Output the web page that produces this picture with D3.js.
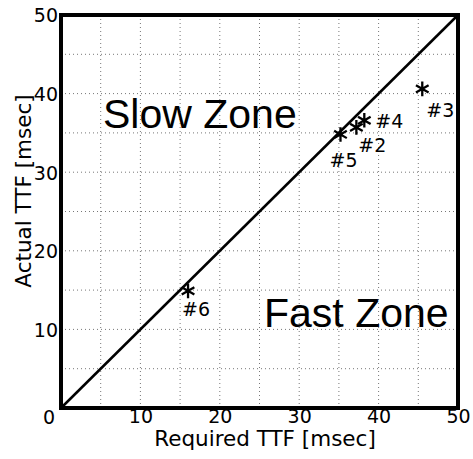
<!DOCTYPE html>
<meta charset="utf-8">
<style>
body { margin: 0; background: #fff; }
.grid line { stroke: #777; stroke-width: 1px; stroke-dasharray: 1,3; }
</style>
<body>
<script src="https://d3js.org/d3.v7.min.js"></script>
<script>

// data
var caseNames = ["#2", "#3", "#4", "#5", "#6"];
var requiredTTF = [37.2, 45.5, 38.2, 35.2, 16.0];
var actualTTF = [35.7, 40.6, 36.6, 34.8, 14.9];
var tickValues = [10, 20, 30, 40, 50];
var gridValues = [5, 10, 15, 20, 25, 30, 35, 40, 45];

// label offsets from each star, in pixels
var labelOffset = { "#2": [2, 25], "#3": [4, 28], "#4": [11, 8], "#5": [-11, 33], "#6": [-6, 25] };

var FONT = "'DejaVu Sans', sans-serif";

var width = 473, height = 459;
var svg = d3.select("body").append("svg")
	.attr("width", width)
	.attr("height", height);

var x = d3.scaleLinear().domain([0, 50]).range([61, 458]);
var y = d3.scaleLinear().domain([0, 50]).range([408, 15]);

// dotted grid
var grid = svg.append("g").attr("class", "grid");
grid.selectAll(".gx").data(gridValues).enter().append("line")
	.attr("x1", d => x(d)).attr("x2", d => x(d))
	.attr("y1", y(0)).attr("y2", y(50));
grid.selectAll(".gy").data(gridValues).enter().append("line")
	.attr("y1", d => y(d)).attr("y2", d => y(d))
	.attr("x1", x(0)).attr("x2", x(50));

// axes
var xAxis = svg.append("g")
	.attr("transform", "translate(0," + y(0) + ")")
	.call(d3.axisBottom(x).tickValues(tickValues).tickSize(0).tickPadding(2));
var yAxis = svg.append("g")
	.attr("transform", "translate(" + x(0) + ",0)")
	.call(d3.axisLeft(y).tickValues(tickValues).tickSize(0).tickPadding(3));
xAxis.select(".domain").remove();
yAxis.select(".domain").remove();
svg.selectAll(".tick text")
	.style("font-family", FONT).style("font-size", "19px").style("fill", "#000");
xAxis.selectAll("text").attr("dy", "0.7em");
yAxis.selectAll("text").attr("dy", "0.36em");

// shared origin label
svg.append("text")
	.style("font-family", FONT).style("font-size", "19px")
	.attr("x", x(0) - 12).attr("y", y(0) + 16)
	.attr("text-anchor", "middle")
	.text("0");

// thick frame
svg.append("rect")
	.attr("x", x(0)).attr("y", y(50))
	.attr("width", x(50) - x(0)).attr("height", y(0) - y(50))
	.attr("fill", "none")
	.attr("stroke", "#000")
	.attr("stroke-width", 4);

// diagonal
svg.append("line")
	.attr("x1", x(0)).attr("y1", y(0))
	.attr("x2", x(50)).attr("y2", y(50))
	.attr("stroke", "#000")
	.attr("stroke-width", 2.5);

// zone labels
svg.append("text")
	.style("font-family", "'Liberation Sans', Arial, sans-serif").style("font-size", "41px")
	.attr("x", 103).attr("y", 128).text("Slow Zone");
svg.append("text")
	.style("font-family", "'Liberation Sans', Arial, sans-serif").style("font-size", "41px")
	.attr("x", 264).attr("y", 327).text("Fast Zone");

// points
var pts = caseNames.map(function(n, i) {
	return { name: n, rx: requiredTTF[i], ay: actualTTF[i] };
});

svg.selectAll(".star").data(pts).enter().append("path")
	.attr("class", "star")
	.attr("d", d3.symbol().type(d3.symbolAsterisk).size(150))
	.attr("transform", d => "translate(" + x(d.rx) + "," + y(d.ay) + ")")
	.attr("fill", "none")
	.attr("stroke", "#000")
	.attr("stroke-width", 2.3);

svg.selectAll(".plabel").data(pts).enter().append("text")
	.attr("class", "plabel")
	.style("font-family", FONT).style("font-size", "19px")
	.attr("x", d => x(d.rx) + labelOffset[d.name][0])
	.attr("y", d => y(d.ay) + labelOffset[d.name][1])
	.text(d => d.name);

// axis titles
svg.append("text")
	.style("font-family", FONT).style("font-size", "21.5px")
	.attr("x", 265).attr("y", 446)
	.attr("text-anchor", "middle")
	.text("Required TTF [msec]");
svg.append("text")
	.style("font-family", FONT).style("font-size", "21.5px")
	.attr("transform", "translate(31,191) rotate(-90)")
	.attr("text-anchor", "middle")
	.text("Actual TTF [msec]");

</script>
</body>
